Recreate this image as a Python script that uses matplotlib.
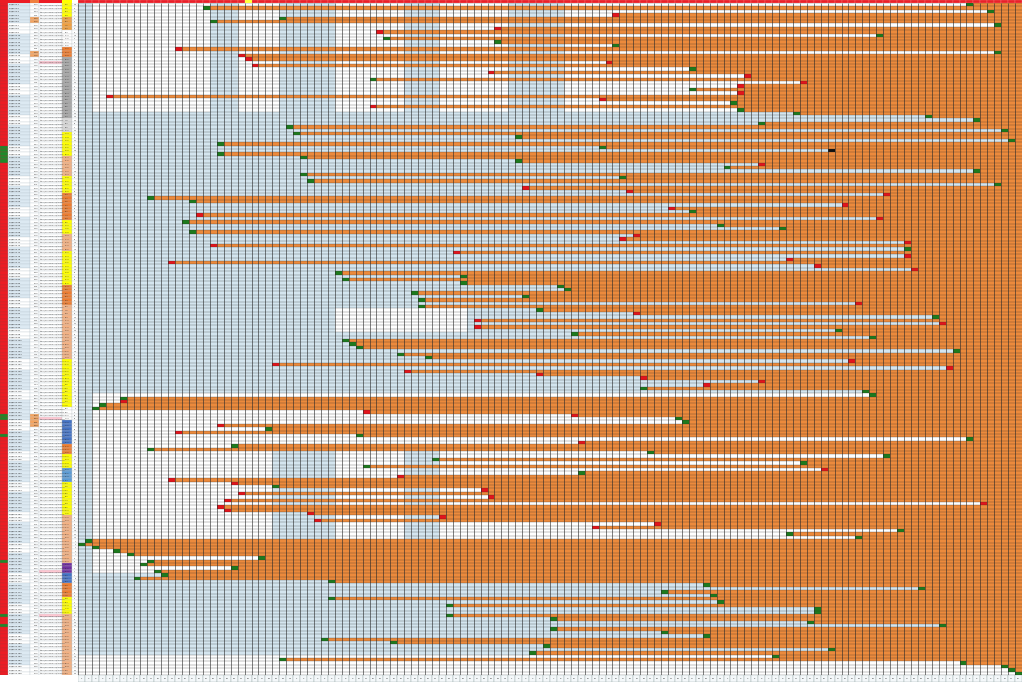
import matplotlib.pyplot as plt
import numpy as np
from matplotlib.colors import to_rgb

# one entry per row: column where the orange run starts, and marker colour
start_col = [128, 18, 131, 77, 29, 19, 132, 60, 43, 115, 44, 60, 77, 14, 132,
             23, 24, 76, 25, 88, 59, 96, 42, 104, 95, 88, 95, 4, 75, 94, 42, 95,
             103, 122, 129, 98, 30, 133, 31, 63, 134, 20, 75, 108, 20, 32, 63, 98,
             93, 129, 32, 78, 33, 132, 64, 79, 116, 10, 16, 110, 85, 88, 17, 115,
             15, 92, 101, 16, 80, 78, 119, 19, 119, 54, 119, 102, 13, 106, 120,
             37, 55, 38, 55, 69, 70, 48, 64, 49, 112, 49, 66, 80, 123, 57, 124,
             57, 109, 71, 114, 38, 39, 40, 126, 46, 50, 111, 28, 125, 47, 66, 81,
             98, 90, 81, 113, 114, 6, 6, 3, 2, 41, 71, 86, 87, 20, 27, 14, 40,
             128, 72, 22, 10, 82, 116, 51, 104, 41, 107, 72, 46, 13, 22, 28, 58,
             23, 59, 21, 130, 20, 21, 33, 52, 34, 83, 74, 118, 102, 112, 1, 0, 2,
             5, 7, 26, 10, 9, 22, 11, 12, 8, 36, 90, 121, 84, 91, 36, 92, 53, 106,
             106, 53, 68, 105, 124, 68, 84, 90, 35, 45, 67, 108, 65, 100, 29, 127,
             133, 134, 135]
marker = ("gggrggg" "rrggggr" "grrrrgr" "rgrrgrr" "rgrggggg" "ggggggg" "kgggrg"
          "gggggrrr" "ggrrgrrg" "gggrrrr" "grrrrrr" "gggggggg" "grggrgrrr"
          "ggggggggg" "rrrrrrrrg" "gggrggrrg" "grgrggrgg" "gggggrgrrrg" "rrrrrrrrrrrr"
          "gggggggggg" "gggggggggggggggg")

status_runs = [(4, '#ffff00'), (4, '#f0a040'), (5, '#ffffff'), (3, '#ed7d31'),
               (18, '#a6a6a6'), (4, '#d9d9d9'), (7, '#ffff00'), (6, '#f4b183'),
               (5, '#ffff00'), (8, '#ed7d31'), (4, '#ffff00'), (5, '#f4b183'),
               (10, '#ffff00'), (6, '#ed7d31'), (16, '#f4b183'), (14, '#ffff00'),
               (4, '#ffffff'), (7, '#4472c4'), (3, '#ed7d31'), (4, '#ffff00'),
               (4, '#5b9bd5'), (10, '#ffff00'), (14, '#f4b183'), (3, '#7030a0'),
               (3, '#4472c4'), (4, '#ed7d31'), (5, '#ffff00'), (26, '#f4b183')]

green_flag_rows = [42, 43, 44, 45, 46, 121, 122, 127, 164, 180, 183]
light_blocks = [(0, 32, 19, 23), (0, 32, 29, 37), (0, 32, 47, 52), (0, 32, 62, 70),
                (32, 115, 0, 136), (115, 170, 0, 2), (168, 192, 0, 136),
                (52, 76, 19, 23), (52, 76, 29, 37), (52, 76, 62, 70),
                (0, 32, 0, 2), (130, 168, 28, 37), (130, 168, 47, 52)]
white_blocks = [(90, 97, 37, 56), (115, 155, 2, 10)]

n_rows = len(start_col)
n_cols = 136
marker = (marker + "g" * n_rows)[:n_rows]

orange = np.array(to_rgb('#ec8a3c'))
white = np.array(to_rgb('#ffffff'))
blue = np.array(to_rgb('#d4e5ef'))
mcol = {'r': to_rgb('#e3141b'), 'g': to_rgb('#1d7a1d'), 'k': to_rgb('#111111')}

img = np.ones((n_rows, n_cols, 3)) * white
for r0, r1, c0, c1 in light_blocks:
    img[r0:r1, c0:c1] = blue
for r0, r1, c0, c1 in white_blocks:
    img[r0:r1, c0:c1] = white
for i, c in enumerate(start_col):
    img[i, c:] = orange
    img[i, c] = mcol[marker[i]]

fig = plt.figure(figsize=(10.24, 6.82), dpi=100)

ax = fig.add_axes([78 / 1024, 7 / 682, 944 / 1024, 672 / 682])
ax.imshow(img, aspect='auto', interpolation='nearest',
          extent=(0, n_cols, n_rows, 0))
ax.vlines(np.arange(n_cols + 1), 0, n_rows, color='#2b2b2b', lw=0.5, alpha=0.85)
ax.hlines(np.arange(0, n_rows + 1, 1), 0, n_cols, color='#2b2b2b', lw=0.3, alpha=0.7)
ax.set_xlim(0, n_cols)
ax.set_ylim(n_rows, 0)
ax.axis('off')

# header strip
hx = fig.add_axes([78 / 1024, 679 / 682, 944 / 1024, 3 / 682])
hx.set_xlim(0, n_cols)
hx.set_ylim(0, 1)
hx.bar(np.arange(n_cols) + 0.5, 1, width=1, color='#e8202a', edgecolor='#ff9090', lw=0.2)
hx.bar([24.5], [1], width=1, color='#ffff40')
hx.axis('off')

# bottom strip with day numbers
bx = fig.add_axes([78 / 1024, 0, 944 / 1024, 7 / 682])
bx.set_xlim(0, n_cols)
bx.set_ylim(0, 1)
bx.bar(np.arange(n_cols) + 0.5, 1, width=1, color='#f4f8fa', edgecolor='#9aa', lw=0.3)
for j in range(n_cols):
    bx.text(j + 0.5, 0.5, str(j % 31 + 1), fontsize=1.6, ha='center', va='center',
            color='#333333')
bx.axis('off')

# left table
lx = fig.add_axes([0, 7 / 682, 78 / 1024, 672 / 682])
lx.set_xlim(0, 78)
lx.set_ylim(n_rows, 0)
rows = np.arange(n_rows)
flag = ['#1d8a2a' if i in green_flag_rows else '#ec1c24' for i in rows]
lx.barh(rows + 0.5, 8, left=0, height=1, color=flag, edgecolor='#aa3333', lw=0.2)
lab_bg = ['#dce9f2' if (i // 3) % 3 != 2 else '#ffffff' for i in rows]
lx.barh(rows + 0.5, 22, left=8, height=1, color=lab_bg, edgecolor='#b8c4cc', lw=0.2)
num_bg = ['#f4a460' if i in (4, 5, 14, 15, 121, 122, 123, 124) else '#ffffff' for i in rows]
lx.barh(rows + 0.5, 9, left=30, height=1, color=num_bg, edgecolor='#b8c4cc', lw=0.2)
url_bg = ['#ffc8d2' if i in (17, 122, 167, 180) else '#ffffff' for i in rows]
lx.barh(rows + 0.5, 23, left=39, height=1, color=url_bg, edgecolor='#b8c4cc', lw=0.2)
top = 0
for n, col in status_runs:
    lx.barh(np.arange(top, min(top + n, n_rows)) + 0.5, 10, left=62, height=1,
            color=col, edgecolor='#bbbbbb', lw=0.2)
    top += n
lx.barh(rows + 0.5, 6, left=72, height=1, color='#ffffff', edgecolor='#b8c4cc', lw=0.2)
for i in rows:
    lx.text(9, i + 0.55, 'Задача %d' % (i + 1), fontsize=1.5, va='center', color='#222222')
    lx.text(38, i + 0.55, str(1000 + i * 7), fontsize=1.3, va='center', ha='right', color='#222222')
    lx.text(40, i + 0.55, 'https://example.org/item%d' % (i + 1), fontsize=1.3, va='center', color='#444444')
    lx.text(67, i + 0.55, '%d.%02d' % (i % 28 + 1, i % 12 + 1), fontsize=1.2, va='center', ha='center', color='#333333')
    lx.text(75, i + 0.55, str(start_col[i]), fontsize=1.2, va='center', ha='center', color='#333333')
lx.axis('off')

hl = fig.add_axes([0, 679 / 682, 78 / 1024, 3 / 682])
hl.set_xlim(0, 78)
hl.set_ylim(0, 1)
hl.bar([4, 19, 34.5, 50.5, 67, 75], 1, width=[8, 22, 9, 23, 10, 6],
       color=['#ec1c24', '#ec1c24', '#f08040', '#ec1c24', '#ffff00', '#ffffff'], lw=0)
hl.axis('off')

fig.savefig('out.png', dpi=100)
